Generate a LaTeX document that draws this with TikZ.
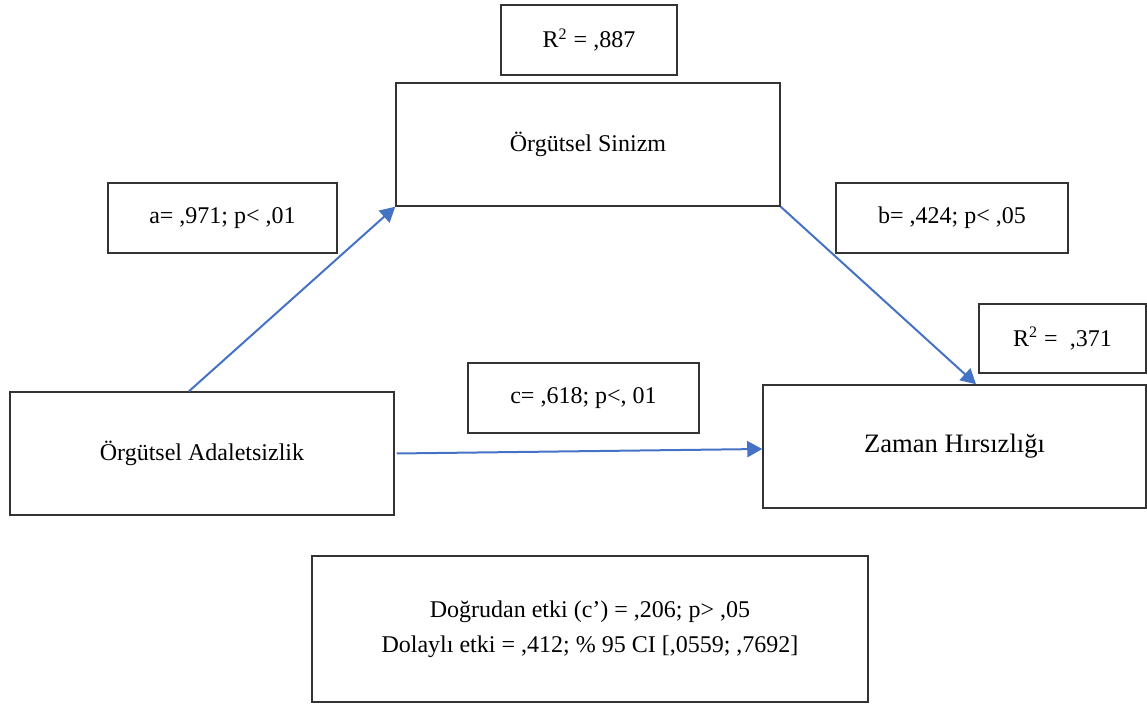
\documentclass[tikz,border=0pt]{standalone}
\usepackage{fontspec}
\setmainfont{Liberation Serif}
\usetikzlibrary{arrows.meta}
\begin{document}
\begin{tikzpicture}[x=0.5pt,y=-0.5pt,
  box/.style={draw=black!80, line width=0.75pt, inner sep=0pt, align=center, font=\fontsize{12}{14}\selectfont},
  link/.style={draw={rgb,255:red,68;green,114;blue,196}, line width=1pt, -{Triangle[length=7.5pt,width=8pt]}}]
\useasboundingbox (0,0) rectangle (1147,704);
\node[box, minimum width=88pt, minimum height=35pt] (r1) at (589,40) {R\textsuperscript{2} = ,887};
\node[box, minimum width=192pt, minimum height=61.5pt] (sin) at (588,144.5) {Örgütsel Sinizm};
\node[box, minimum width=114.5pt, minimum height=35pt] (a) at (222.5,218) {a= ,971; p< ,01};
\node[box, minimum width=116pt, minimum height=35pt] (b) at (952,218) {b= ,424; p< ,05};
\node[box, minimum width=83.5pt, minimum height=34.5pt] (r2) at (1062.5,338.5) {R\textsuperscript{2} =\ \ ,371};
\node[box, minimum width=115.5pt, minimum height=35pt] (c) at (583.5,398) {c= ,618; p<, 01};
\node[box, minimum width=192pt, minimum height=61.5pt] (adl) at (202,453.5) {Örgütsel Adaletsizlik};
\node[box, minimum width=191.5pt, minimum height=61.5pt, font=\fontsize{13.3}{16}\selectfont] (zam) at (954.5,446.5) {Zaman Hırsızlığı};
\node[box, minimum width=278pt, minimum height=73pt, font=\fontsize{12}{17.5}\selectfont] (bot) at (590,629) {Doğrudan etki (c’) = ,206; p> ,05\\Dolaylı etki = ,412; \% 95 CI [,0559; ,7692]};
\draw[link] ([xshift=-6.5pt]adl.north) -- (sin.south west);
\draw[link] (sin.south east) -- ([xshift=10.75pt]zam.north);
\draw[link] ([xshift=1pt]adl.east) -- ([yshift=-1.25pt]zam.west);
\end{tikzpicture}
\end{document}
